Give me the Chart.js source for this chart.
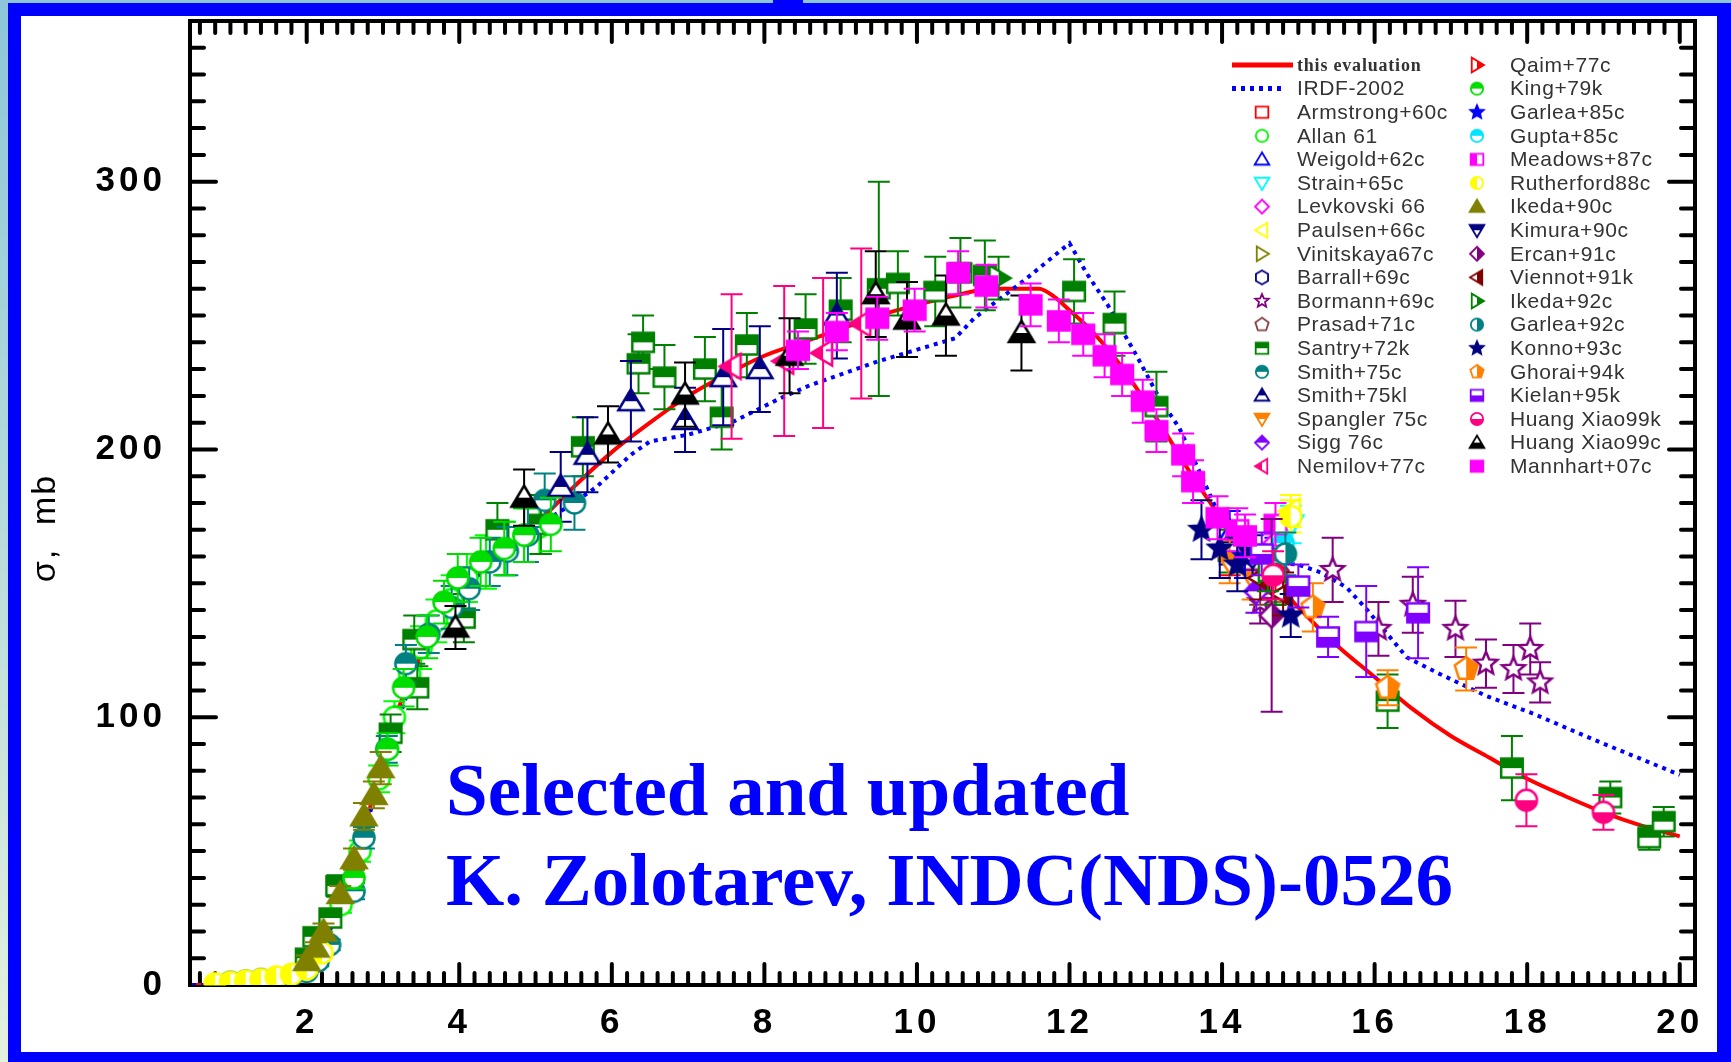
<!DOCTYPE html>
<html>
<head>
<meta charset="utf-8">
<script src="https://cdn.jsdelivr.net/npm/chart.js@4.4.1/dist/chart.umd.min.js"></script>
<style>
  html, body { margin: 0; width: 1731px; height: 1062px; overflow: hidden; }
  body { position: relative; background: linear-gradient(#8cc6d8, #e4f1dc); }
  #frame { position: absolute; left: 8px; top: 3px; width: 1723px; height: 1059px; box-sizing: border-box;
           border: 13px solid #0000ff; border-bottom-width: 10px; border-right-width: 14px; background: #fff; }
  #tab { position: absolute; left: 773px; top: 0; width: 30px; height: 4px; background: #0000ff; }
  #chart { position: absolute; left: 0; top: 0; }
</style>
</head>
<body>
<div id="frame"></div><div id="tab"></div>
<canvas id="chart" width="1731" height="1062"></canvas>
<script>
const xTicks = [2, 4, 6, 8, 10, 12, 14, 16, 18, 20];
const yTicks = [0, 100, 200, 300];

// evaluated curves, [E (MeV), sigma (mb)]
const thisEvaluation = [[0.5,0],[1.0,0.1],[1.5,0.8],[1.8,3],[2.0,8],[2.2,17],[2.4,28],[2.6,42],[2.8,63],[3.0,84],[3.2,103],[3.4,117],[3.6,129],[3.8,138],[4.0,146],[4.5,160],[5.0,172],[5.5,186],[6.0,199],[6.5,210],[7.0,220],[7.5,228],[8.0,235],[8.5,240],[9.0,245],[9.5,250],[10.0,254],[10.5,257.5],[11.0,260],[11.6,260],[11.8,257],[12.0,252],[12.3,244],[12.6,234],[12.9,222],[13.2,209],[13.5,195],[13.8,182],[14.1,170],[14.5,157],[15.0,141],[15.5,127],[16.0,115],[16.5,103],[17.0,93],[17.5,85],[18.0,77],[18.5,70.5],[19.0,64.5],[19.5,59.5],[20.0,55.5]];
const irdf2002 = [[0.5,0],[1.0,0.1],[1.5,0.8],[2.0,6],[2.5,30],[3.0,82],[3.5,124],[4.0,146],[4.5,160],[5.0,171],[5.5,180],[5.8,186],[6.25,198],[6.5,203],[7.0,205.5],[7.6,210.5],[8.2,219],[8.6,224],[9.5,233],[10.5,241.5],[10.75,249],[11.4,263],[12.0,277],[12.22,266],[12.5,254],[12.88,235],[13.18,219],[13.44,208],[13.7,192],[14.0,173],[14.3,161],[14.6,158],[15.0,157],[15.3,154],[15.63,148.5],[15.89,140.5],[16.24,128.6],[16.42,122.4],[16.85,116.2],[17.46,108],[18.08,101.3],[18.95,90.7],[20.0,78.5]];

// measurements, [E (MeV), sigma (mb), d sigma (mb)]
const armstrong60 = [[14.1,162,9]];
const allan61 = [[2.2,17,3],[2.45,30,3],[2.7,50,4],[2.95,77,5],[3.15,100,6],[3.35,116,7],[3.5,126,8],[3.7,136,8],[3.9,144,9],[4.1,152,9],[4.35,158,10],[4.6,163,10],[4.85,168,10],[5.05,171,10]];
const weigold62 = [[14.1,168,9],[14.7,158,9]];
const strain65 = [[14.9,172,7]];
const levkovski66 = [[14.7,165,8]];
const paulsen66 = [[14.9,177,6]];
const vinitskaya67 = [[14.7,152,9]];
const barrall69 = [[14.7,150,8]];
const bormann69 = [[14.5,143,8],[15.45,155,12],[16.05,133,10],[16.5,142,10.5],[17.06,133,10.5],[17.46,120,9],[17.82,118,9],[18.04,125.5,9.5],[18.17,113,7.5]];
const prasad71 = [[14.5,150,8]];
const santry72 = [[2.0,10,2],[2.1,18,3],[2.31,25,3],[2.4,37,4],[3.1,94,7],[3.45,111,8],[3.41,129,9],[4.06,137,9],[4.5,170,10],[5.07,172,11],[5.62,201,11],[6.35,232,11],[6.41,240,10],[6.69,227,12],[7.22,230,12],[7.44,212,12],[7.77,239,12],[8.54,245,13],[9.0,252,12],[9.5,260,40],[9.75,262,12],[10.24,259,13],[10.57,266,13],[10.89,265,13],[12.06,259,12],[12.59,247,12],[13.14,216,13],[14.1,162,8],[14.7,150,8],[16.17,106,10],[17.8,81,12],[19.09,70,6],[19.6,55,4.5],[19.79,61,5.5]];
const smith75c = [[1.0,1,0.5],[1.2,1.5,0.5],[1.4,2,0.6],[1.6,2.6,0.8],[1.8,3.5,1],[2.0,5,1],[2.15,9,2],[2.3,15,2],[2.62,35,3],[2.75,55,4],[3.05,88,5],[3.3,120,7],[3.6,131,7],[3.9,141,8],[4.13,148,8],[4.4,158,9],[4.63,162,9],[4.9,168,10],[5.12,181,10],[5.51,180,10]];
const smith75kl = [[5.33,186,13],[5.68,198,14],[6.25,218,15],[6.96,211,12],[7.46,227,18],[7.94,230,16],[8.95,250,16],[14.1,165,8]];
const spangler75 = [[14.1,158,8],[14.4,152,8]];
const sigg76 = [[14.45,147,8]];
const nemilov77 = [[7.57,231,27],[8.26,233,28],[8.77,236,28],[9.27,247,28]];
const qaim77 = [[14.7,155,8]];
const king79 = [[2.62,40,4],[3.06,88,6],[3.27,111,7],[3.58,130,8],[3.8,143,8],[3.98,152,9],[4.28,158,9],[4.59,163,10],[4.85,168,10],[5.2,172,10]];
const garlea85 = [[14.3,160,8]];
const gupta85 = [[14.8,165,7]];
const meadows87 = [[14.2,170,8],[14.7,172,8]];
const rutherford88 = [[0.8,0.5,0.3],[1.0,1,0.4],[1.2,1.5,0.5],[1.4,2,0.6],[1.6,3,0.8],[1.8,4,1],[2.0,6,1.5],[2.2,12,2],[14.9,175,6]];
const ikeda90 = [[2.0,9,2],[2.12,14,2],[2.22,20,3],[2.44,34,3],[2.62,47,4],[2.75,63,5],[2.88,71,5],[2.97,81,6]];
const kimura90 = [[14.4,160,8]];
const ercan91 = [[14.65,138,36]];
const viennot91 = [[14.5,152,8],[14.8,146,8]];
const ikeda92 = [[11.07,264,8],[14.6,155,8]];
const garlea92 = [[14.83,161,8]];
const konno93 = [[13.73,170,11],[13.97,163,11],[14.2,157,10],[14.9,138,8]];
const ghorai94 = [[15.19,141,9],[16.17,111,6.5],[17.2,118,8]];
const kielan95 = [[14.52,161,8],[15.0,149,8],[15.39,130,7.5],[15.89,132,17],[16.57,139,17]];
const huangXiao99k = [[14.67,153,9],[17.99,69,9.7],[19.0,64.5,6.5]];
const huangXiao99c = [[3.95,133.5,8],[4.85,182,10.5],[5.95,205.6,10.5],[6.96,220.5,12],[8.33,235,14],[9.46,258,16],[9.87,248.5,14],[10.38,250,15],[11.37,243.5,14]];
const mannhart07 = [[8.44,237,7],[8.95,244,7],[9.48,249,8],[9.97,252,8],[10.54,266,8],[10.91,261,8],[11.49,254,8],[11.86,248,8],[12.18,243,8],[12.46,235,8],[12.69,228,8],[12.96,218,8],[13.14,207,8],[13.49,198,8],[13.62,188,8],[13.94,174.5,8],[14.3,167.7,8]];

// label, values, symbol shape, colour, which part of the symbol is filled
const series = [
  ['Armstrong+60c', armstrong60, 'square', '#ff0000', 'open'],
  ['Allan 61', allan61, 'circle', '#00ff00', 'open'],
  ['Weigold+62c', weigold62, 'up', '#0000ff', 'open'],
  ['Strain+65c', strain65, 'down', '#00ffff', 'open'],
  ['Levkovski 66', levkovski66, 'diamond', '#ff00ff', 'open'],
  ['Paulsen+66c', paulsen66, 'left', '#ffff00', 'open'],
  ['Vinitskaya67c', vinitskaya67, 'right', '#808000', 'open'],
  ['Barrall+69c', barrall69, 'hexagon', '#000080', 'open'],
  ['Bormann+69c', bormann69, 'star', '#800080', 'open'],
  ['Prasad+71c', prasad71, 'pentagon', '#804040', 'open'],
  ['Santry+72k', santry72, 'square', '#008000', 'top'],
  ['Smith+75c', smith75c, 'circle', '#008080', 'top'],
  ['Smith+75kl', smith75kl, 'up', '#000080', 'top'],
  ['Spangler 75c', spangler75, 'down', '#ff8000', 'top'],
  ['Sigg 76c', sigg76, 'diamond', '#8000ff', 'top'],
  ['Nemilov+77c', nemilov77, 'left', '#ff0080', 'left'],
  ['Qaim+77c', qaim77, 'right', '#ff0000', 'right'],
  ['King+79k', king79, 'circle', '#00dd00', 'top'],
  ['Garlea+85c', garlea85, 'star', '#0000ff', 'full'],
  ['Gupta+85c', gupta85, 'circle', '#00e5ff', 'top'],
  ['Meadows+87c', meadows87, 'square', '#ff00ff', 'left'],
  ['Rutherford88c', rutherford88, 'circle', '#ffff00', 'left'],
  ['Ikeda+90c', ikeda90, 'up', '#808000', 'full'],
  ['Kimura+90c', kimura90, 'down', '#000080', 'top'],
  ['Ercan+91c', ercan91, 'diamond', '#800080', 'right'],
  ['Viennot+91k', viennot91, 'left', '#800000', 'right'],
  ['Ikeda+92c', ikeda92, 'right', '#008000', 'right'],
  ['Garlea+92c', garlea92, 'circle', '#008080', 'right'],
  ['Konno+93c', konno93, 'star', '#000080', 'full'],
  ['Ghorai+94k', ghorai94, 'pentagon', '#ff8000', 'right'],
  ['Kielan+95k', kielan95, 'square', '#8000ff', 'bottom'],
  ['Huang Xiao99k', huangXiao99k, 'circle', '#ff0080', 'bottom'],
  ['Huang Xiao99c', huangXiao99c, 'up', '#000000', 'bottom'],
  ['Mannhart+07c', mannhart07, 'square', '#ff00ff', 'full'],
];

function tracePath(g, shape, r) {
  const poly = pts => {
    pts.forEach(([a, b], i) => i ? g.lineTo(a * r, b * r) : g.moveTo(a * r, b * r));
    g.closePath();
  };
  const ngon = (n, inner) => {
    const pts = [];
    const k = inner ? 2 * n : n;
    for (let i = 0; i < k; i++) {
      const t = -Math.PI / 2 + i * 2 * Math.PI / k;
      const rr = inner && i % 2 ? inner : 1;
      pts.push([rr * Math.cos(t), rr * Math.sin(t)]);
    }
    poly(pts);
  };
  g.beginPath();
  switch (shape) {
    case 'square': g.rect(-0.9 * r, -0.8 * r, 1.8 * r, 1.6 * r); break;
    case 'circle': g.arc(0, 0, 0.88 * r, 0, Math.PI * 2); break;
    case 'up': poly([[0, -1], [1.05, 0.75], [-1.05, 0.75]]); break;
    case 'down': poly([[0, 1], [1.05, -0.75], [-1.05, -0.75]]); break;
    case 'left': poly([[-1, 0], [0.75, -1.05], [0.75, 1.05]]); break;
    case 'right': poly([[1, 0], [-0.75, -1.05], [-0.75, 1.05]]); break;
    case 'diamond': poly([[0, -1], [1, 0], [0, 1], [-1, 0]]); break;
    case 'hexagon': ngon(6); break;
    case 'pentagon': ngon(5); break;
    case 'star': ngon(5, 0.45); break;
  }
}

// symbol bitmap used as a Chart.js pointStyle
function makeSymbol(shape, color, fill, size) {
  const c = document.createElement('canvas');
  c.width = c.height = size + 8;
  const g = c.getContext('2d');
  const r = size / 2, h = size;
  g.translate(c.width / 2, c.height / 2);
  tracePath(g, shape, r);
  g.fillStyle = '#fff';
  g.fill();
  if (fill !== 'open') {
    g.save();
    g.clip();
    g.fillStyle = color;
    if (fill === 'full') g.fillRect(-h, -h, 2 * h, 2 * h);
    if (fill === 'top') g.fillRect(-h, -h, 2 * h, h);
    if (fill === 'bottom') g.fillRect(-h, 0, 2 * h, h);
    if (fill === 'left') g.fillRect(-h, -h, h, 2 * h);
    if (fill === 'right') g.fillRect(0, -h, h, 2 * h);
    g.restore();
  }
  tracePath(g, shape, r);
  g.lineWidth = size > 15 ? 2.5 : 1.8;
  g.strokeStyle = color;
  g.stroke();
  return c;
}

const curve = arr => arr.map(([x, y]) => ({ x, y }));
const withErr = arr => arr.map(([x, y, e]) => ({ x, y, e }));

const datasets = [
  { label: 'this evaluation', data: curve(thisEvaluation), showLine: true, pointRadius: 0,
    borderColor: '#ff0000', borderWidth: 4, cubicInterpolationMode: 'monotone', order: 100 },
  { label: 'IRDF-2002', data: curve(irdf2002), showLine: true, pointRadius: 0,
    borderColor: '#0000ff', borderWidth: 4, borderDash: [4, 5], order: 99 },
  ...series.map(([label, values, shape, color, fill], i) => ({
    label,
    data: withErr(values),
    pointStyle: makeSymbol(shape, color, fill, 24),
    legendIcon: makeSymbol(shape, color, fill, 14),
    errColor: color,
    order: 50 - i,
  })),
];

// vertical error bars, drawn just under each dataset's symbols
const errorBars = {
  id: 'errorBars',
  beforeDatasetDraw(chart, args) {
    const ds = chart.data.datasets[args.index];
    if (!ds.errColor) return;
    const { ctx, scales: { x, y } } = chart;
    ctx.save();
    ctx.strokeStyle = ds.errColor;
    ctx.lineWidth = 2;
    ctx.beginPath();
    for (const p of ds.data) {
      const px = x.getPixelForValue(p.x);
      const top = y.getPixelForValue(p.y + p.e);
      const bot = y.getPixelForValue(p.y - p.e);
      ctx.moveTo(px, top); ctx.lineTo(px, bot);
      ctx.moveTo(px - 11, top); ctx.lineTo(px + 11, top);
      ctx.moveTo(px - 11, bot); ctx.lineTo(px + 11, bot);
    }
    ctx.stroke();
    ctx.restore();
  }
};

// spaced-out tick numbers, then the box with inward ticks on all four sides
const frame = {
  id: 'frame',
  beforeDraw(chart) {
    chart.ctx.letterSpacing = '4px';
  },
  beforeDatasetsDraw(chart) {
    const { ctx, chartArea: a, scales: { x, y } } = chart;
    ctx.letterSpacing = '0px';
    ctx.save();
    ctx.strokeStyle = '#000';
    ctx.lineWidth = 4;
    ctx.strokeRect(a.left, a.top, a.right - a.left, a.bottom - a.top);
    ctx.lineCap = 'round';
    ctx.beginPath();
    for (let k = 3; k <= 100; k++) {
      const px = x.getPixelForValue(k / 5);
      const len = k % 10 === 0 ? 21 : 12;
      ctx.moveTo(px, a.bottom); ctx.lineTo(px, a.bottom - len);
      ctx.moveTo(px, a.top); ctx.lineTo(px, a.top + len);
    }
    for (let v = 10; v < y.max; v += 10) {
      const py = y.getPixelForValue(v);
      const len = v % 100 === 0 ? 26 : 14;
      ctx.moveTo(a.left, py); ctx.lineTo(a.left + len, py);
      ctx.moveTo(a.right, py); ctx.lineTo(a.right - len, py);
    }
    ctx.stroke();
    ctx.restore();
  }
};

// axis title, two-column key and the caption
const annotations = {
  id: 'annotations',
  afterDraw(chart) {
    const ctx = chart.ctx;
    ctx.save();
    ctx.translate(46, 528);
    ctx.rotate(-Math.PI / 2);
    ctx.font = '34px "Liberation Sans"';
    ctx.letterSpacing = '2px';
    ctx.fillStyle = '#000';
    ctx.textAlign = 'center';
    ctx.textBaseline = 'middle';
    ctx.fillText('σ,  mb', 0, 0);
    ctx.restore();

    ctx.save();
    ctx.textBaseline = 'middle';
    chart.data.datasets.forEach((ds, i) => {
      const col = i < 18 ? 0 : 1;
      const cy = 65 + (i % 18) * 23.6;
      const mx = col ? 1477 : 1262;
      const tx = col ? 1510 : 1297;
      if (ds.showLine) {
        ctx.strokeStyle = ds.borderColor;
        ctx.lineWidth = 5;
        ctx.setLineDash(ds.borderDash || []);
        ctx.beginPath();
        ctx.moveTo(1232, cy);
        ctx.lineTo(ds.borderDash ? 1286 : 1293, cy);
        ctx.stroke();
        ctx.setLineDash([]);
      } else {
        const ic = ds.legendIcon;
        ctx.drawImage(ic, mx - ic.width / 2, cy - ic.height / 2);
      }
      ctx.fillStyle = '#333';
      if (i === 0) {
        ctx.font = 'bold 18px "Liberation Serif"';
        ctx.letterSpacing = '0.8px';
      } else {
        ctx.font = '21px "Liberation Sans"';
        ctx.letterSpacing = '0.6px';
      }
      ctx.fillText(ds.label, tx, cy + 1);
    });
    ctx.letterSpacing = '0px';
    ctx.fillStyle = '#0000ff';
    ctx.font = 'bold 75px "Liberation Serif"';
    ctx.textBaseline = 'alphabetic';
    ctx.fillText('Selected and updated', 446, 815);
    ctx.fillText('K. Zolotarev, INDC(NDS)-0526', 446, 905);
    ctx.restore();
  }
};

const tickFont = { family: 'Liberation Sans', size: 35, weight: 'bold' };

new Chart(document.getElementById('chart'), {
  type: 'scatter',
  data: { datasets },
  options: {
    responsive: false,
    animation: false,
    events: [],
    layout: { padding: { left: 28, top: 21, right: 36, bottom: 0 } },
    plugins: { legend: { display: false }, tooltip: { enabled: false } },
    scales: {
      x: {
        type: 'linear', min: 0.47, max: 20.2,
        grid: { display: false, drawTicks: false }, border: { display: false },
        ticks: { font: tickFont, color: '#000', padding: 17, maxRotation: 0, autoSkip: false },
        afterBuildTicks: s => { s.ticks = xTicks.map(v => ({ value: v })); },
        afterFit: s => { s.height = 77; s.paddingLeft = 0; s.paddingRight = 0; }
      },
      y: {
        type: 'linear', min: 0, max: 360,
        grid: { display: false, drawTicks: false }, border: { display: false },
        ticks: { font: tickFont, color: '#000', padding: 24 },
        afterBuildTicks: s => { s.ticks = yTicks.map(v => ({ value: v })); },
        afterFit: s => { s.width = 162; s.paddingTop = 0; s.paddingBottom = 0; }
      }
    }
  },
  plugins: [frame, errorBars, annotations]
});
</script>
</body>
</html>
